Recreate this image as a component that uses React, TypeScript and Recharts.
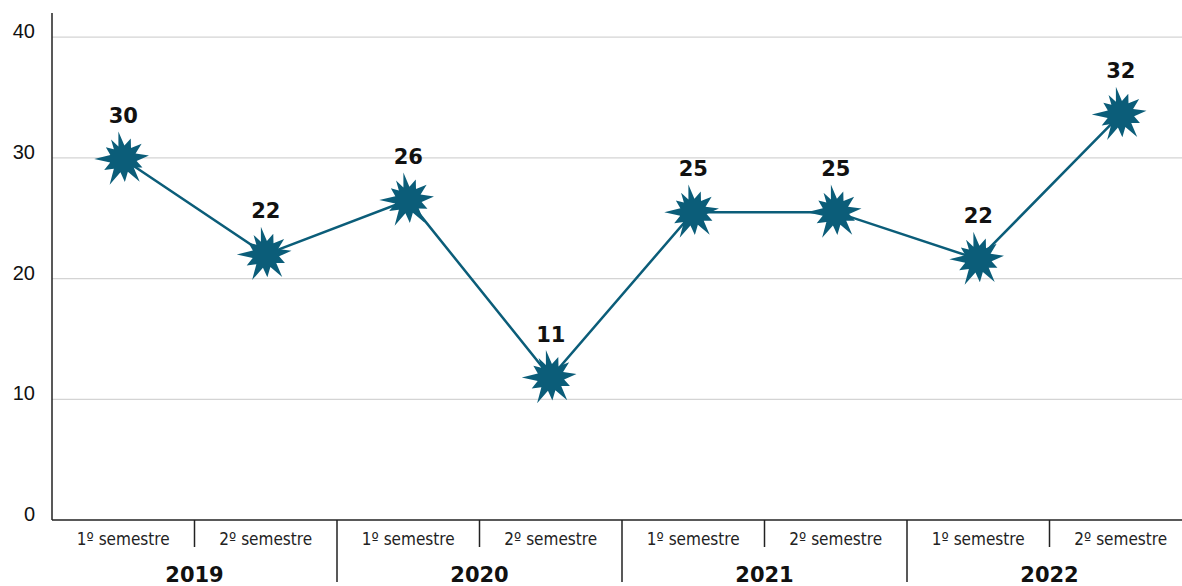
import React from "react";
import { LineChart, Line, XAxis, YAxis, CartesianGrid, LabelList } from "recharts";

// semesters, in order
const periods = ["2019-1", "2019-2", "2020-1", "2020-2", "2021-1", "2021-2", "2022-1", "2022-2"];
const semesterLabels = ["1º semestre", "2º semestre", "1º semestre", "2º semestre", "1º semestre", "2º semestre", "1º semestre", "2º semestre"];
const years = ["2019", "2020", "2021", "2022"];
// plotted position of each point
const values = [29.9, 22.0, 26.5, 11.8, 25.5, 25.5, 21.6, 33.6];
// the printed label above each point
const valueLabels = ["30", "22", "26", "11", "25", "25", "22", "32"];
const yTicks = [0, 10, 20, 30, 40];
const gridValues = [10, 20, 30, 40];

const data = periods.map((p, i) => ({ period: p, value: values[i] }));

const CHART_W = 1192;
const CHART_H = 586;
const Y_AXIS_W = 52;
const BAND = (CHART_W - Y_AXIS_W) / periods.length;
const COLOR = "#0b5d79";

// spike shape of the burst marker (styling only)
const spikes = [
  { a: -100, r: 28 }, { a: -70, r: 22 }, { a: -40, r: 24 }, { a: -8, r: 26 },
  { a: 24, r: 21 }, { a: 54, r: 28 }, { a: 86, r: 23 }, { a: 118, r: 29 },
  { a: 150, r: 22 }, { a: 180, r: 29 }, { a: 214, r: 21 }, { a: 238, r: 23 },
];

function StarDot(props: any) {
  const { cx, cy, index } = props;
  if (cx == null || cy == null) return null;
  const pts: string[] = [];
  spikes.forEach((s, i) => {
    const a = (s.a * Math.PI) / 180;
    pts.push(`${cx + s.r * Math.cos(a)},${cy + s.r * Math.sin(a)}`);
    const next = spikes[(i + 1) % spikes.length];
    const mid = (s.a + (next.a < s.a ? next.a + 360 : next.a)) / 2;
    const m = (mid * Math.PI) / 180;
    pts.push(`${cx + 13.5 * Math.cos(m)},${cy + 13.5 * Math.sin(m)}`);
  });
  return <polygon key={`star-${index}`} points={pts.join(" ")} fill={COLOR} />;
}

function ValueLabel(props: any) {
  const { x, y, index } = props;
  return (
    <text
      x={x}
      y={y - 36}
      textAnchor="middle"
      fontFamily="'DejaVu Sans', sans-serif"
      fontWeight={700}
      fontSize={21}
      fill="#111"
    >
      {valueLabels[index]}
    </text>
  );
}

function YTick(props: any) {
  const { y, payload } = props;
  return (
    <text x={35} y={y + 1} textAnchor="end" fontFamily="'Liberation Sans', Arial, sans-serif" fontSize={20} fontWeight={500} fill="#111">
      {payload.value}
    </text>
  );
}

function XTick(props: any) {
  const { x, y, payload } = props;
  const i = payload.index;
  const yearStart = i % 2 === 0;
  return (
    <g>
      <text
        x={x}
        y={y + 25}
        textAnchor="middle"
        fontFamily="'Liberation Sans Narrow', 'DejaVu Sans Condensed', sans-serif"
        fontSize={17}
        fill="#222"
      >
        {semesterLabels[i]}
      </text>
      {i > 0 && (
        <line x1={x - BAND / 2} x2={x - BAND / 2} y1={y} y2={y + (yearStart ? 62 : 27)} stroke="#222" strokeWidth={1.5} />
      )}
      {yearStart && (
        <text
          x={x + BAND / 2}
          y={y + 62}
          textAnchor="middle"
          fontFamily="'DejaVu Sans', sans-serif"
          fontWeight={700}
          fontSize={21}
          fill="#111"
        >
          {years[i / 2]}
        </text>
      )}
    </g>
  );
}

export default function App() {
  return (
    <div style={{ position: "fixed", left: 0, top: 0, width: 1182, height: 586, overflow: "hidden", background: "#fff" }}>
      <LineChart width={CHART_W} height={CHART_H} data={data} margin={{ top: 13, right: 0, left: 0, bottom: 0 }}>
        <CartesianGrid vertical={false} horizontalValues={gridValues} stroke="#d4d4d4" strokeWidth={1.2} />
        <XAxis
          dataKey="period"
          height={66}
          padding={{ left: BAND / 2, right: BAND / 2 }}
          axisLine={{ stroke: "#222", strokeWidth: 1.5 }}
          tickLine={false}
          tickSize={0}
          tickMargin={0}
          interval={0}
          tick={<XTick />}
        />
        <YAxis
          width={Y_AXIS_W}
          domain={[0, 42]}
          ticks={yTicks}
          axisLine={{ stroke: "#222", strokeWidth: 1.5 }}
          tickLine={false}
          tick={<YTick />}
        />
        <Line
          type="linear"
          dataKey="value"
          stroke={COLOR}
          strokeWidth={2.5}
          dot={<StarDot />}
          activeDot={false}
          isAnimationActive={false}
        >
          <LabelList dataKey="value" content={<ValueLabel />} />
        </Line>
      </LineChart>
    </div>
  );
}
